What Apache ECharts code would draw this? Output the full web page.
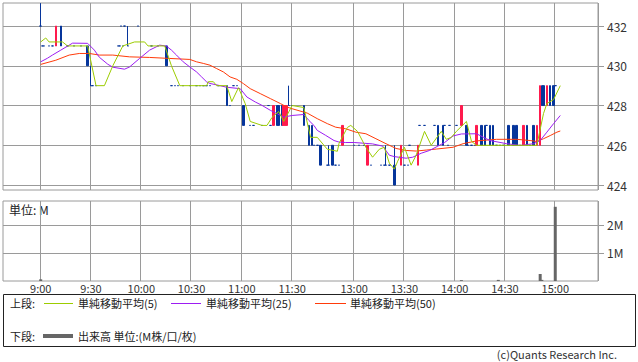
<!DOCTYPE html>
<html>
<head>
<meta charset="utf-8">
<script src="https://cdn.jsdelivr.net/npm/echarts@6/dist/echarts.min.js"></script>
<style>
html, body { margin: 0; padding: 0; background: #fff; }
#chart { width: 638px; height: 362px; }
</style>
</head>
<body>
<div id="chart"></div>
<script>
// 目盛ラベル
var labelTimes = ['9:00','9:30','10:00','10:30','11:00','11:30','13:00','13:30','14:00','14:30','15:00'];
var priceTicks = [424, 426, 428, 430, 432];
var volTicks = [1, 2];

// 1分足 (始値/終値/安値/高値)
var candleTimes = [
	'9:00','9:01','9:02','9:05','9:07','9:09','9:12','9:16','9:20','9:24',
	'9:28','9:30','9:31','9:33','9:46','9:47','9:48','9:49','9:50','9:52',
	'9:58','10:06','10:10','10:15','10:18','10:20','10:22','10:25','10:29','10:33',
	'10:35','10:37','10:39','10:41','10:46','10:51','10:53','10:55','10:57','11:01',
	'11:05','11:07','11:12','11:16','11:17','11:19','11:21','11:22','11:24','11:25',
	'11:26','11:27','11:28','11:30','12:30','12:33','12:35','12:36','12:38','12:40',
	'12:44','12:45','12:47','12:49','12:51','12:53','13:00','13:03','13:06','13:08',
	'13:10','13:16','13:18','13:19','13:21','13:24','13:28','13:30','13:32','13:33',
	'13:38','13:39','13:42','13:48','13:50','13:53','13:54','13:56','13:57','14:01',
	'14:04','14:07','14:08','14:10','14:12','14:13','14:16','14:18','14:19','14:21',
	'14:23','14:25','14:27','14:29','14:32','14:35','14:37','14:39','14:41','14:43',
	'14:45','14:47','14:49','14:51','14:52','14:53','14:55','14:57','14:59','15:00'
];
var candleOpen = [
	432,431,431,431,431,431,432,431,431,431,
	431,429,429,429,431,431,432,431,432,431,
	432,431,431,431,429,429,429,429,429,429,
	429,429,429,429,429,429,428,429,429,428,
	427,427,427,428,427,427,428,428,428,427,
	427,427,428,428,428,427,427,426,426,426,
	425,425,426,425,425,426,426,426,426,425,
	425,425,425,425,425,425,425,425,425,426,
	425,427,427,427,427,427,427,426,427,427,
	427,427,426,426,426,426,427,427,427,427,
	427,426,426,426,427,427,427,426,426,427,
	426,427,426,426,429,429,428,429,429,429
];
var candleClose = [
	432,431,431,431,431,432,431,431,431,431,
	430,429,429,429,431,431,432,431,432,431,
	432,431,431,430,429,429,429,429,429,429,
	429,429,429,429,429,428,428,429,429,427,
	427,427,427,428,427,428,427,427,427,428,
	428,428,428,428,427,426,426,426,426,425,
	425,425,425,425,425,427,426,426,426,426,
	425,425,425,425,425,424,426,425,425,426,
	426,427,427,427,426,426,427,426,427,427,
	428,426,426,426,426,427,426,426,427,426,
	426,426,426,426,426,426,426,426,427,426,
	426,426,427,429,428,428,429,428,428,429
];
var candleLow = [
	432,431,431,431,431,431,431,431,431,431,
	430,429,429,429,431,431,432,431,432,431,
	432,431,431,430,429,429,429,429,429,429,
	429,429,429,429,429,428,428,429,429,427,
	427,427,427,428,427,427,427,427,427,427,
	427,427,428,428,427,426,426,426,426,425,
	425,425,425,425,425,426,426,426,426,425,
	425,425,425,425,425,424,425,425,425,426,
	425,427,427,427,426,426,427,426,427,427,
	427,426,426,426,426,426,426,426,427,426,
	426,426,426,426,426,426,426,426,426,426,
	426,426,426,426,428,428,428,428,428,429
];
var candleHigh = [
	433.15,431,431,431,431,432,432,431,431,431,
	431,430,429,429,431,431,432,431,432,432,
	432,431,431,431,429,429,429,429,429,429,
	429,429,429,429,429,429,428,429,429,428,
	427,427,427,428,427,428,428,428,428,428,
	428,428,429,428,428,427,427,426,426,426,
	425,426,426,425,425,427,426,426,426,426,
	425,425,425,426,425,426,426,425,425,426,
	426,427,427,427,427,427,427,426,427,427,
	428,427,426,426,426,427,427,427,427,427,
	427,426,426,426,427,427,427,426,427,427,
	426,427,427,429,429,429,429,429,429,429
];

// 出来高 (M)
var volTimes = ['9:00','14:04','14:26','14:51','14:52','15:00'];
var volValues = [0.06, 0.03, 0.04, 0.25, 0.04, 2.65];

// 単純移動平均(5)
var ma5Times = ['9:00','9:03','9:05','9:13','9:16','9:28','9:33','9:38','9:43','9:49',
	'9:56','10:02','10:04','10:14','10:18','10:23','10:39','10:40','10:43','10:45',
	'10:51','10:54','10:58','11:02','11:05','11:12','11:15','11:18','11:22','11:25',
	'11:30','12:30','12:34','12:38','12:44','12:50','12:51','12:56','12:58','13:02',
	'13:07','13:11','13:15','13:18','13:21','13:24','13:26','13:30','13:34','13:37',
	'13:42','13:46','13:52','13:55','13:58','14:01','14:07','14:10','14:13','14:49',
	'14:53','14:55','14:59','15:03'];
var ma5Values = [431.2,431.4,431.2,431.2,431.0,431.0,429.0,429.0,430.0,431.0,
	431.2,431.2,431.0,431.0,430.0,429.0,429.0,429.2,429.2,429.0,
	429.0,428.2,428.9,428.1,427.2,427.0,427.0,427.4,427.7,427.2,
	428.0,427.9,426.4,426.4,425.8,425.7,426.1,426.9,427.0,426.7,
	425.9,425.4,425.8,425.9,425.1,424.8,425.2,425.9,425.0,425.5,
	426.7,426.0,426.7,426.3,426.4,426.7,427.2,426.2,426.0,426.0,
	427.6,428.1,428.3,429.0];

// 単純移動平均(25)
var ma25Times = ['9:00','9:04','9:07','9:12','9:19','9:28','9:32','9:35','9:40','9:43',
	'9:50','9:53','9:59','10:05','10:11','10:15','10:18','10:21','10:25','10:29',
	'10:33','10:36','10:39','10:41','10:46','10:51','10:59','11:03','11:08','11:12',
	'11:17','11:25','11:30','12:30','12:33','12:36','12:38','12:43','12:48','12:51',
	'12:55','13:00','13:11','13:17','13:21','13:24','13:31','13:35','13:40','13:45',
	'13:50','13:54','13:59','14:04','14:13','14:17','14:21','14:31','14:39','14:47',
	'14:51','14:55','14:59','15:03'];
var ma25Values = [430.2,430.38,430.54,430.79,431.14,431.13,430.79,430.43,430.08,429.93,
	429.83,429.94,430.37,430.79,431.04,430.99,430.79,430.54,430.2,429.94,
	429.69,429.44,429.19,429.11,429.02,428.92,428.85,428.43,428.18,428.01,
	427.76,427.42,427.5,427.55,427.25,427.0,426.75,426.5,426.24,426.16,
	426.14,426.14,426.07,425.96,425.5,425.43,425.35,425.4,425.6,425.74,
	425.96,426.14,426.47,426.57,426.58,426.41,426.24,426.08,425.99,426.08,
	426.24,426.66,427.09,427.5];

// 単純移動平均(50)
var ma50Times = ['9:00','9:09','9:17','9:23','9:29','9:35','9:43','9:53','10:05','10:17',
	'10:29','10:33','10:37','10:41','10:45','10:49','10:53','10:57','11:01','11:05',
	'11:11','11:17','11:23','11:27','11:30','12:32','12:38','12:44','12:49','12:55',
	'13:01','13:07','13:13','13:19','13:25','13:31','13:37','13:43','13:49','13:59',
	'14:05','14:13','14:25','14:37','14:45','14:49','14:53','14:57','15:01','15:03'];
var ma50Values = [430.07,430.28,430.54,430.62,430.62,430.54,430.54,430.45,430.42,430.37,
	430.32,430.2,430.12,430.03,429.86,429.69,429.44,429.32,429.1,428.85,
	428.6,428.35,428.1,427.92,427.84,427.62,427.34,427.09,426.91,426.83,
	426.66,426.58,426.33,426.08,425.84,425.74,425.71,425.76,425.81,425.9,
	426.08,426.22,426.3,426.3,426.24,426.19,426.33,426.49,426.66,426.72];

var UP = '#ff1a4d', DOWN = '#06359b';
var FONT = '"Noto Sans CJK JP", "Noto Sans", sans-serif';
var GRID = '#9a9a9a';

// 時間軸 (昼休みは詰める)
function hm(h, m) { return h + ':' + (m < 10 ? '0' + m : m); }
var cats = [];
for (var i = 0; i < 22; i++) cats.push('a' + i);
for (var t = 0; t <= 150; t++) cats.push(hm(9 + Math.floor(t / 60), t % 60));
for (var i = 0; i < 6; i++) cats.push('g' + i);
for (var t = 0; t <= 175; t++) { var mm = 30 + t; cats.push(hm(12 + Math.floor(mm / 60), mm % 60)); }

function showAt(index, value) { return labelTimes.indexOf(value) >= 0; }
function zip(a, b) { return a.map(function (v, i) { return [v, b[i]]; }); }

var candleData = candleTimes.map(function (t, i) {
	var item = { value: [t, candleOpen[i], candleClose[i], candleLow[i], candleHigh[i]] };
	if (candleOpen[i] === candleClose[i]) {
		item.itemStyle = { color: DOWN, color0: DOWN, borderColor: DOWN, borderColor0: DOWN };
	}
	return item;
});

var myChart = echarts.init(document.getElementById('chart'), null, { renderer: 'svg' });
var option = {
	animation: false,
	backgroundColor: '#fff',
	grid: [
		{ left: 3, top: 3, width: 595, height: 187, show: true, borderColor: GRID, borderWidth: 1 },
		{ left: 3, top: 201, width: 595, height: 80, show: true, borderColor: GRID, borderWidth: 1 }
	],
	xAxis: [
		{
			type: 'category', gridIndex: 0, data: cats, boundaryGap: true,
			axisLine: { show: false }, axisTick: { show: false }, axisLabel: { show: false },
			splitLine: { show: true, interval: showAt, lineStyle: { color: GRID, width: 1 } }
		},
		{
			type: 'category', gridIndex: 1, data: cats, boundaryGap: true,
			axisLine: { show: false }, axisTick: { show: false },
			axisLabel: { show: true, interval: showAt, margin: 1, color: '#333', fontSize: 11, lineHeight: 11, fontFamily: FONT },
			splitLine: { show: true, interval: showAt, lineStyle: { color: GRID, width: 1 } }
		}
	],
	yAxis: [
		{
			type: 'value', gridIndex: 0, position: 'right', min: 423.75, max: 433.16, splitNumber: 5, scale: true,
			axisLine: { show: false },
			axisTick: { show: true, length: 6, customValues: priceTicks, lineStyle: { color: GRID } },
			axisLabel: { customValues: priceTicks, margin: 9, color: '#333', fontSize: 12, fontFamily: FONT },
			splitLine: { show: true, lineStyle: { color: GRID, width: 1 } }
		},
		{
			type: 'value', gridIndex: 1, position: 'right', min: 0, max: 2.857, interval: 1,
			axisLine: { show: false },
			axisTick: { show: true, length: 6, customValues: volTicks, lineStyle: { color: GRID } },
			axisLabel: { customValues: volTicks, margin: 9, color: '#333', fontSize: 12, fontFamily: FONT,
				formatter: function (v) { return v + 'M'; } },
			splitLine: { show: true, lineStyle: { color: GRID, width: 1 } }
		}
	],
	series: [
		{
			name: '株価', type: 'candlestick', xAxisIndex: 0, yAxisIndex: 0,
			barWidth: 2,
			encode: { x: 0, y: [1, 2, 3, 4] },
			itemStyle: { color: UP, color0: DOWN, borderColor: UP, borderColor0: DOWN, borderWidth: 1 },
			data: candleData
		},
		{
			name: '単純移動平均(50)', type: 'line', xAxisIndex: 0, yAxisIndex: 0,
			symbol: 'none', lineStyle: { color: '#ff3b0a', width: 1 }, data: zip(ma50Times, ma50Values)
		},
		{
			name: '単純移動平均(25)', type: 'line', xAxisIndex: 0, yAxisIndex: 0,
			symbol: 'none', lineStyle: { color: '#9d1df2', width: 1 }, data: zip(ma25Times, ma25Values)
		},
		{
			name: '単純移動平均(5)', type: 'line', xAxisIndex: 0, yAxisIndex: 0,
			symbol: 'none', lineStyle: { color: '#9ccc00', width: 1 }, data: zip(ma5Times, ma5Values)
		},
		{
			name: '出来高', type: 'bar', xAxisIndex: 1, yAxisIndex: 1,
			barWidth: 3, itemStyle: { color: '#666' }, data: zip(volTimes, volValues)
		}
	],
	graphic: [
		{ type: 'text', x: 9, y: 203, style: { text: '単位: M', font: '12px ' + FONT, fill: '#222' } },
		{ type: 'rect', shape: { x: 3.5, y: 294.5, width: 632, height: 52 }, style: { fill: 'none', stroke: '#222', lineWidth: 1 } },
		{ type: 'text', x: 10, y: 303, style: { text: '上段:', font: '11px ' + FONT, fill: '#222', verticalAlign: 'middle' } },
		{ type: 'line', shape: { x1: 44, y1: 303.5, x2: 73, y2: 303.5 }, style: { stroke: '#9ccc00', lineWidth: 1 } },
		{ type: 'text', x: 78, y: 303, style: { text: '単純移動平均(5)', font: '11px ' + FONT, fill: '#222', verticalAlign: 'middle' } },
		{ type: 'line', shape: { x1: 171, y1: 303.5, x2: 201, y2: 303.5 }, style: { stroke: '#9d1df2', lineWidth: 1 } },
		{ type: 'text', x: 206, y: 303, style: { text: '単純移動平均(25)', font: '11px ' + FONT, fill: '#222', verticalAlign: 'middle' } },
		{ type: 'line', shape: { x1: 315, y1: 303.5, x2: 346, y2: 303.5 }, style: { stroke: '#ff3b0a', lineWidth: 1 } },
		{ type: 'text', x: 350, y: 303, style: { text: '単純移動平均(50)', font: '11px ' + FONT, fill: '#222', verticalAlign: 'middle' } },
		{ type: 'text', x: 10, y: 336, style: { text: '下段:', font: '11px ' + FONT, fill: '#222', verticalAlign: 'middle' } },
		{ type: 'line', shape: { x1: 43, y1: 336, x2: 73, y2: 336 }, style: { stroke: '#666', lineWidth: 4 } },
		{ type: 'text', x: 78, y: 336, style: { text: '出来高 単位:(M株/口/枚)', font: '11px ' + FONT, fill: '#222', verticalAlign: 'middle' } },
		{ type: 'text', x: 617, y: 354, style: { text: '(c)Quants Research Inc.', font: '11px ' + FONT, fill: '#333', align: 'right', verticalAlign: 'middle' } }
	]
};
myChart.setOption(option, true);
</script>
</body>
</html>
